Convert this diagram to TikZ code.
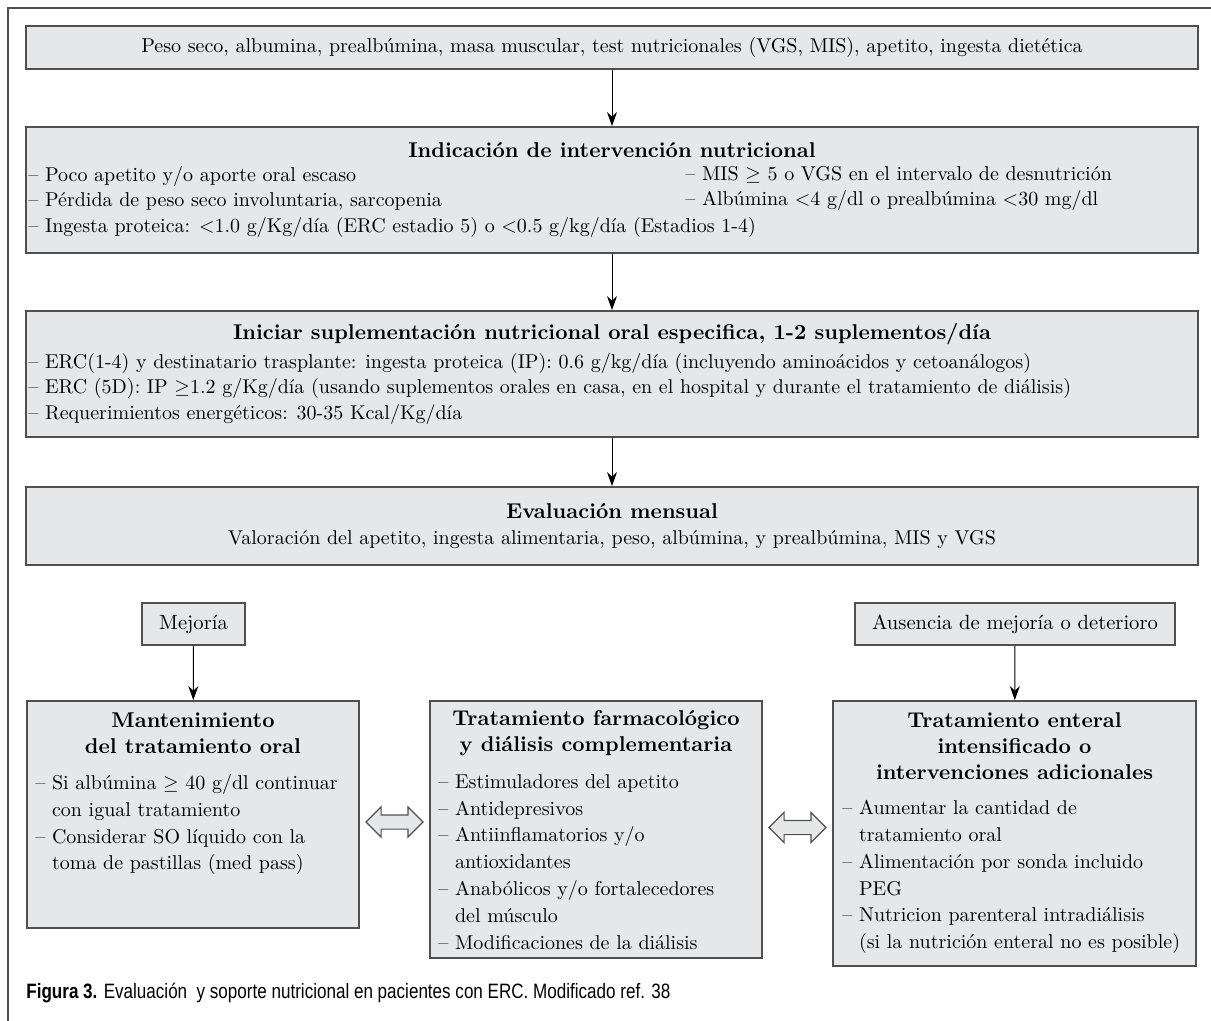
\documentclass[tikz,border=0pt]{standalone}
\usepackage{fontspec}
\newfontfamily\piefont[FakeStretch=0.82]{Liberation Sans}
\usepackage{tikz}
\usetikzlibrary{arrows.meta,shapes.arrows,calc,positioning}
\definecolor{cajagris}{RGB}{230,231,232}
\definecolor{bordegris}{RGB}{80,80,80}

\tikzset{
  caja/.style={draw=bordegris, fill=cajagris, line width=0.9pt, inner sep=0pt},
  titulo/.style={font=\fontsize{10.7}{13}\selectfont\bfseries, align=center, inner sep=0pt},
  lista/.style={font=\fontsize{10}{12.75}\selectfont, align=left, inner sep=0pt, anchor=north west},
  listab/.style={lista, font=\fontsize{10}{13.4}\selectfont},
  flecha/.style={-{Stealth[length=7pt,width=5pt]}, line width=0.5pt},
  doble/.style={double arrow, draw=bordegris, fill=cajagris, line width=0.6pt, inner sep=3.25pt,
    double arrow head extend=4pt, minimum height=28.5pt, minimum width=14.5pt}
}

\begin{document}
\begin{tikzpicture}[x=0.5pt, y=-0.5pt]
    \useasboundingbox (0,0) rectangle (1211,1021);
    % marco
    \draw[bordegris, line width=0.8pt] (8,1021) -- (8,8) -- (1211,8);

    % cajas principales
    \node[caja, minimum width=586pt, minimum height=21.5pt, font=\fontsize{10}{12}\selectfont] (datos) at (612,47.5)
        {Peso seco, albumina, prealbúmina, masa muscular, test nutricionales (VGS, MIS), apetito, ingesta dietética};
    \node[caja, minimum width=586pt, minimum height=63pt] (indic) at (612,190) {};
    \node[caja, minimum width=586pt, minimum height=63pt] (inicio) at (612,374) {};
    \node[caja, minimum width=586pt, minimum height=39pt, align=center, font=\fontsize{10}{13}\selectfont] (evalua) at (612,526)
        {{\fontsize{10.7}{13}\selectfont\bfseries Evaluación mensual}\\Valoración del apetito, ingesta alimentaria, peso, albúmina, y prealbúmina, MIS y VGS};

    % indicacion
    \node[titulo] (indicT) at (612,150) {Indicación de intervención nutricional};
    \node[lista] (indicL) at (28,166) {– Poco apetito y/o aporte oral escaso\\
        – Pérdida de peso seco involuntaria, sarcopenia\\
        – Ingesta proteica: <1.0 g/Kg/día (ERC estadio 5) o <0.5 g/kg/día (Estadios 1-4)};
    \node[lista] (indicR) at (685,166) {– MIS $\geq$ 5 o VGS en el intervalo de desnutrición\\
        – Albúmina <4 g/dl o prealbúmina <30 mg/dl};

    % suplementacion
    \node[titulo] (inicioT) at (612,334) {Iniciar suplementación nutricional oral especifica, 1-2 suplementos/día};
    \node[lista] (inicioL) at (28,353) {– ERC(1-4) y destinatario trasplante: ingesta proteica (IP): 0.6 g/kg/día (incluyendo aminoácidos y cetoanálogos)\\
        – ERC (5D): IP $\geq$1.2 g/Kg/día (usando suplementos orales en casa, en el hospital y durante el tratamiento de diálisis)\\
        – Requerimientos energéticos: 30-35 Kcal/Kg/día};

    % respuesta
    \node[caja, minimum width=51.5pt, minimum height=21pt, font=\fontsize{10.3}{12}\selectfont] (mejora) at (193.5,624) {Mejoría};
    \node[caja, minimum width=160pt, minimum height=21pt, font=\fontsize{10.3}{12}\selectfont] (ausencia) at (1015,624) {Ausencia de mejoría o deterioro};

    % cajas de abajo
    \node[caja, minimum width=166pt, minimum height=113.5pt] (mant) at (193,814.5) {};
    \node[caja, minimum width=166pt, minimum height=128.5pt] (farm) at (596,829.5) {};
    \node[caja, minimum width=181.5pt, minimum height=132.5pt] (enteral) at (1014.5,833.5) {};

    \node[titulo, anchor=north] (mantT) at (193,712) {Mantenimiento\\del tratamiento oral};
    \node[listab] (mantL) at (35,774) {– Si albúmina $\geq$ 40 g/dl continuar\\
        \phantom{– }con igual tratamiento\\
        – Considerar SO líquido con la\\
        \phantom{– }toma de pastillas (med pass)};

    \node[titulo, anchor=north] (farmT) at (596,710) {Tratamiento farmacológico\\y diálisis complementaria};
    \node[listab] (farmL) at (438,774) {– Estimuladores del apetito\\
        – Antidepresivos\\
        – Antiinflamatorios y/o\\
        \phantom{– }antioxidantes\\
        – Anabólicos y/o fortalecedores\\
        \phantom{– }del músculo\\
        – Modificaciones de la diálisis};

    \node[titulo, anchor=north] (enteralT) at (1014.5,712) {Tratamiento enteral\\intensificado o\\intervenciones adicionales};
    \node[listab] (enteralL) at (842,800) {– Aumentar la cantidad de\\
        \phantom{– }tratamiento oral\\
        – Alimentación por sonda incluido\\
        \phantom{– }PEG\\
        – Nutricion parenteral intradiálisis\\
        \phantom{– }(si la nutrición enteral no es posible)};

    % flechas
    \draw[flecha] (datos) -- (indic);
    \draw[flecha] (indic) -- (inicio);
    \draw[flecha] (inicio) -- (evalua);
    \draw[flecha] (mejora) -- (mant);
    \draw[flecha] (ausencia) -- (enteral);
    \node[doble] (ida1) at ($(mant.east)!0.5!(farm.west)$) {};
    \node[doble, yshift=2pt] (ida2) at ($(farm.east)!0.5!(enteral.west)$) {};

    % pie
    \node[anchor=base west, inner sep=0pt, font=\piefont\fontsize{10.4}{12}\selectfont] (pie) at (26,998)
        {\textbf{Figura 3.} Evaluación\ \ y soporte nutricional en pacientes con ERC. Modificado ref. 38};
\end{tikzpicture}
\end{document}
